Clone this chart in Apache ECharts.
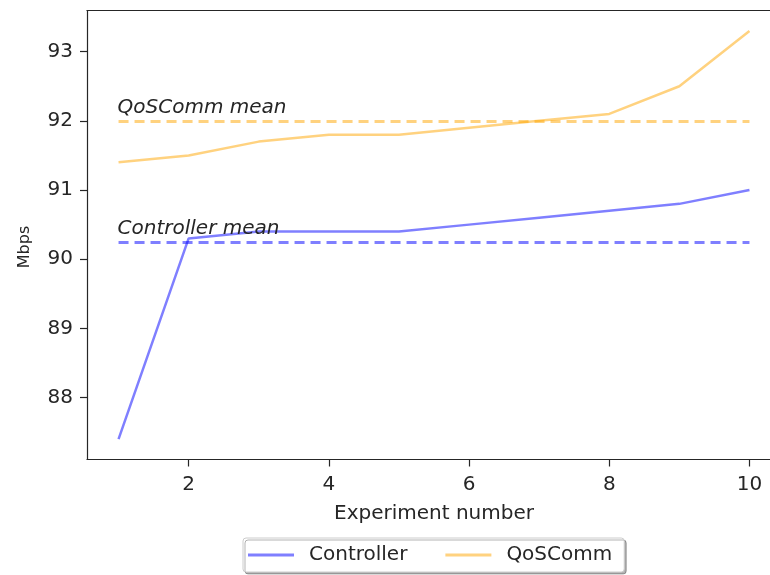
<!DOCTYPE html>
<html>
<head>
<meta charset="utf-8">
<script src="https://cdn.jsdelivr.net/npm/echarts@6/dist/echarts.min.js"></script>
<style>html,body{margin:0;padding:0;background:#fff}#c{width:770px;height:575px}</style>
</head>
<body>
<div id="c"></div>
<script>
const experiments = [1, 2, 3, 4, 5, 6, 7, 8, 9, 10];
const controller = [87.4, 90.3, 90.4, 90.4, 90.4, 90.5, 90.6, 90.7, 90.8, 91.0];
const qoscomm = [91.4, 91.5, 91.7, 91.8, 91.8, 91.9, 92.0, 92.1, 92.5, 93.3];
const xTicks = [2, 4, 6, 8, 10];
const yTicks = [88, 89, 90, 91, 92, 93];

const mean = a => a.reduce((s, v) => s + v, 0) / a.length;
const FONT = 'DejaVu Sans';
const FS = 20;
const blue = 'rgba(0,0,255,0.5)';
const orange = 'rgba(255,165,0,0.5)';
const spine = { show: true, lineStyle: { color: '#262626', width: 1.2 } };

function meanLine(arr, color, text) {
  const m = mean(arr);
  return {
    symbol: ['none', 'none'],
    silent: true,
    lineStyle: { color: color, type: [10, 6], width: 3 },
    label: {
      show: true, position: 'insideStartTop', formatter: text,
      fontFamily: FONT, fontSize: FS, fontStyle: 'italic', color: '#262626',
      distance: 3, offset: [-4, 0]
    },
    data: [[{ coord: [experiments[0], m] }, { coord: [experiments[experiments.length - 1], m] }]]
  };
}

const chart = echarts.init(document.getElementById('c'), null, { renderer: 'canvas' });
chart.setOption({
  animation: false,
  backgroundColor: '#fff',
  grid: {
    left: 87, width: 694, top: 10.5, height: 449,
    containLabel: false, outerBoundsMode: 'none', show: false
  },
  xAxis: [{
    type: 'value', min: 0.55, max: 10.45, position: 'bottom',
    name: 'Experiment number', nameLocation: 'middle', nameGap: 44,
    nameTextStyle: { fontFamily: FONT, fontSize: FS, color: '#262626' },
    axisLine: spine,
    axisTick: { show: true, customValues: xTicks, length: 7, lineStyle: { color: '#262626', width: 1.2 } },
    axisLabel: { customValues: xTicks, fontFamily: FONT, fontSize: FS, color: '#262626', margin: 15 },
    splitLine: { show: false }
  }, {
    type: 'value', min: 0.55, max: 10.45, position: 'top',
    axisLine: spine, axisTick: { show: false }, axisLabel: { show: false }, splitLine: { show: false }
  }],
  yAxis: {
    type: 'value', min: 87.105, max: 93.595,
    name: 'Mbps', nameLocation: 'middle', nameGap: 54, nameRotate: 90,
    nameTextStyle: { fontFamily: FONT, fontSize: 16, color: '#262626', padding: [0, 24, 0, 0] },
    axisLine: spine,
    axisTick: { show: true, customValues: yTicks, length: 7, lineStyle: { color: '#262626', width: 1.2 } },
    axisLabel: { customValues: yTicks, fontFamily: FONT, fontSize: FS, color: '#262626', margin: 14 },
    splitLine: { show: false }
  },
  legend: {
    top: 538, left: 243,
    data: [{ name: 'Controller', icon: 'rect' }, { name: 'QoSComm', icon: 'rect' }],
    itemWidth: 46, itemHeight: 3, itemGap: 38,
    padding: [7, 12, 7, 5],
    borderColor: '#cccccc', borderWidth: 1, borderRadius: 3,
    backgroundColor: '#fff',
    shadowColor: 'rgba(0,0,0,0.3)', shadowBlur: 0, shadowOffsetX: 2, shadowOffsetY: 2,
    textStyle: { fontFamily: FONT, fontSize: FS, color: '#262626', padding: [0, 0, 0, 10] }
  },
  series: [
    {
      name: 'Controller', type: 'line', symbol: 'none', xAxisIndex: 0,
      data: experiments.map((x, i) => [x, controller[i]]),
      lineStyle: { color: blue, width: 2.5 }, itemStyle: { color: blue },
      markLine: meanLine(controller, blue, 'Controller mean')
    },
    {
      name: 'QoSComm', type: 'line', symbol: 'none', xAxisIndex: 0,
      data: experiments.map((x, i) => [x, qoscomm[i]]),
      lineStyle: { color: orange, width: 2.5 }, itemStyle: { color: orange },
      markLine: meanLine(qoscomm, orange, 'QoSComm mean')
    }
  ]
});
</script>
</body>
</html>
